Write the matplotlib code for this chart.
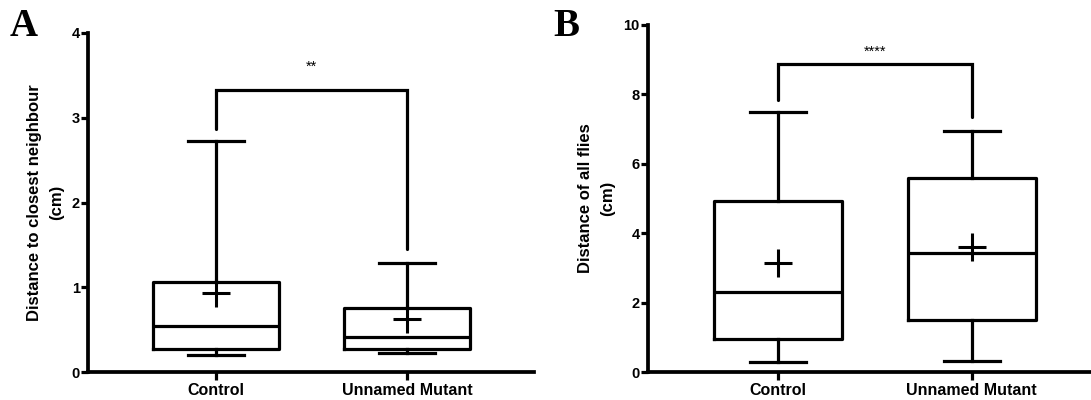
import matplotlib
matplotlib.use('Agg')
import matplotlib.pyplot as plt

# Grupos comparados
grupos = ['Control', 'Unnamed Mutant']

# Painel A - distância ao vizinho mais próximo (cm)
a_min = [0.20, 0.22]
a_q1 = [0.27, 0.27]
a_mediana = [0.54, 0.41]
a_q3 = [1.06, 0.76]
a_max = [2.73, 1.29]
a_media = [0.93, 0.62]

# Painel B - distância de todas as moscas (cm)
b_min = [0.29, 0.32]
b_q1 = [0.94, 1.50]
b_mediana = [2.31, 3.44]
b_q3 = [4.93, 5.59]
b_max = [7.50, 6.94]
b_media = [3.13, 3.60]

# Colchetes de significância: (topo, perna esquerda, perna direita, altura do texto, texto)
sig_a = (3.33, 2.87, 1.45, 3.60, '**')
sig_b = (8.88, 7.85, 7.35, 9.22, '****')

plt.rcParams['font.family'] = ['Liberation Sans', 'DejaVu Sans']
plt.rcParams['font.weight'] = 'bold'
plt.rcParams['axes.labelweight'] = 'bold'

LW = 2.3


def montar_stats(mins, q1s, meds, q3s, maxs, medias):
    stats = []
    for i in range(len(grupos)):
        stats.append({'label': grupos[i], 'whislo': mins[i], 'q1': q1s[i], 'med': meds[i],
                      'q3': q3s[i], 'whishi': maxs[i], 'mean': medias[i], 'fliers': []})
    return stats


def desenhar_painel(ax, stats, ymax, yticks, ylabel, sig, letra, letra_xy):
    ax.bxp(stats, positions=[1, 2], widths=0.66, capwidths=0.29, showmeans=True, showfliers=False,
           boxprops=dict(color='black', linewidth=LW),
           whiskerprops=dict(color='black', linewidth=LW),
           capprops=dict(color='black', linewidth=LW),
           medianprops=dict(color='black', linewidth=LW),
           meanprops=dict(marker='+', markeredgecolor='black', markersize=20, markeredgewidth=2.2))

    # Colchete de significância
    topo, esq, dir_, y_txt, texto = sig
    ax.plot([1, 1, 2, 2], [esq, topo, topo, dir_], color='black', linewidth=LW,
            solid_capstyle='round', solid_joinstyle='miter', clip_on=False)
    ax.text(1.5, y_txt, texto, ha='center', va='center', fontsize=10.5, fontweight='normal')

    ax.set_ylim(0, ymax)
    ax.set_yticks(yticks)
    ax.set_xticks([1, 2])
    ax.set_xticklabels(grupos, fontsize=11.5, fontweight='bold')
    ax.tick_params(axis='y', labelsize=10.5, width=LW, length=5, direction='out', pad=1)
    ax.tick_params(axis='x', width=LW, length=6, direction='out', pad=2)
    for lado in ['top', 'right']:
        ax.spines[lado].set_visible(False)
    for lado in ['left', 'bottom']:
        ax.spines[lado].set_linewidth(LW + 0.4)
    ax.set_ylabel(ylabel, fontsize=12, fontweight='bold', linespacing=1.6)

    plt.gcf().text(letra_xy[0], letra_xy[1], letra, fontsize=28, fontweight='bold',
                   family='Liberation Serif', va='top', ha='left')


fig = plt.figure(figsize=(10.91, 4.0), dpi=100)

ax_a = fig.add_axes([88 / 1091, 28 / 400, (534 - 88) / 1091, (372 - 33) / 400])
desenhar_painel(ax_a, montar_stats(a_min, a_q1, a_mediana, a_q3, a_max, a_media), 4, [0, 1, 2, 3, 4],
                'Distance to closest neighbour\n(cm)', sig_a, 'A', (10 / 1091, 1 - 8 / 400))
ax_a.set_xlim(0.33, 2.665)
ax_a.yaxis.set_label_coords(-0.054, 0.5)

ax_b = fig.add_axes([648 / 1091, 28 / 400, (1090 - 648) / 1091, (372 - 25) / 400])
desenhar_painel(ax_b, montar_stats(b_min, b_q1, b_mediana, b_q3, b_max, b_media), 10, [0, 2, 4, 6, 8, 10],
                'Distance of all flies\n(cm)', sig_b, 'B', (553 / 1091, 1 - 8 / 400))
ax_b.set_xlim(0.33, 2.61)
ax_b.yaxis.set_label_coords(-0.075, 0.5)

fig.savefig('out.png', dpi=100)
